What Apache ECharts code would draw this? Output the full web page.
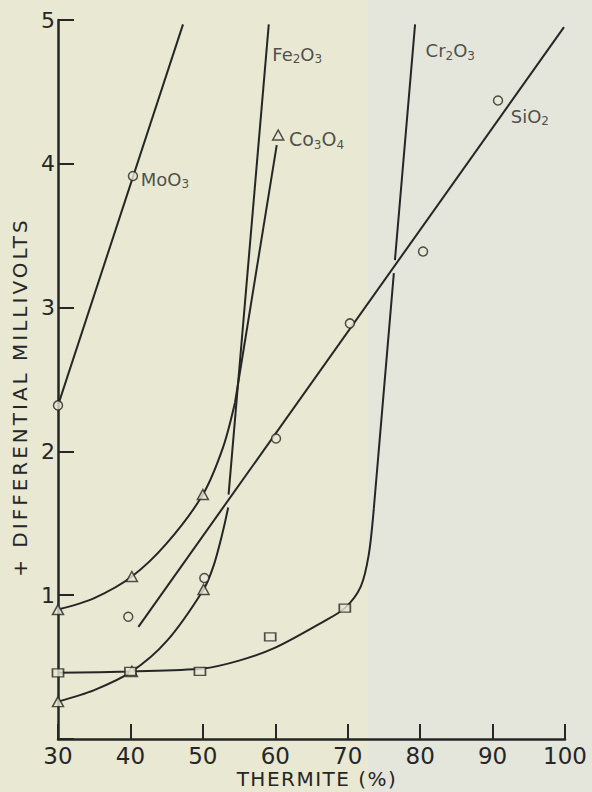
<!DOCTYPE html>
<html><head><meta charset="utf-8">
<script src="https://cdn.jsdelivr.net/npm/echarts@6/dist/echarts.min.js"></script>
<style>html,body{margin:0;padding:0;background:#e8e8d4}#c{width:592px;height:792px}</style>
</head><body><div id="c"></div>
<script>
// ---- data ----
const xTicks = [30, 40, 50, 60, 70, 80, 90, 100];
const yTicks = [0, 1, 2, 3, 4, 5];
const xName = 'THERMITE (%)';
const yName = '+ DIFFERENTIAL MILLIVOLTS';

const moO3Line = [[30, 2.32], [47.26, 4.97]];
const moO3Pts = [[30, 2.32], [40.35, 3.915]];

const siO2Line = [[41.1, 0.78], [99.86, 4.95]];
const siO2Pts = [[39.7, 0.85], [50.2, 1.12], [60.1, 2.09], [70.3, 2.89], [80.4, 3.39], [90.75, 4.44]];

const fe2O3Curve = [[30, 0.26], [35, 0.34], [40.2, 0.47], [45, 0.68], [50.1, 1.04],
  [51.45, 1.20], [52.7, 1.43], [53.5, 1.61]];
const fe2O3Line = [[53.55, 1.70], [59.1, 4.97]];
const fe2O3Tri = [[30, 0.26], [40.2, 0.47], [50.1, 1.04]];

const co3O4Curve = [[30, 0.9], [35, 0.98], [40.2, 1.13], [45, 1.36], [50, 1.70],
  [52.8, 2.03], [54.44, 2.34]];
const co3O4Line = [[54.44, 2.34], [60.2, 4.13]];
const co3O4Tri = [[30, 0.9], [40.2, 1.13], [50, 1.70], [60.4, 4.2]];

const cr2O3Curve = [[30, 0.46], [40, 0.47], [50, 0.49], [55, 0.545], [60, 0.635],
  [66.6, 0.815], [69.6, 0.91], [71.8, 1.06], [72.9, 1.28], [73.6, 1.6]];
const cr2O3Line = [[73.6, 1.6], [76.37, 3.24], [76.45, '-'], [76.52, 3.33], [79.3, 4.97]];
const cr2O3Sq = [[30, 0.46], [40, 0.47], [49.6, 0.47], [59.3, 0.71], [69.6, 0.91]];

// ---- styling ----
const INK = '#262626';
const BG = '#e8e8d3';
const BG2 = '#e4e5db';
const FONT = 'DejaVu Sans';

const rich = {
  n: { fontFamily: FONT, fontSize: 18, color: INK, padding: [0, 0, 2, 0], verticalAlign: 'bottom' },
  s: { fontFamily: FONT, fontSize: 12, color: INK, verticalAlign: 'bottom' }
};
function lbl(fmt, distance, oy, size) {
  const r = JSON.parse(JSON.stringify(rich));
  if (size) r.n.fontSize = size;
  return { show: true, position: 'right', distance: distance, offset: [0, oy], formatter: fmt, rich: r };
}

function lineS(name, data, smooth) {
  return { name, type: 'line', data, smooth: smooth ? 0.3 : false,
    showSymbol: false, symbol: 'none', z: 2, lineStyle: { color: INK, width: 2 }, silent: true };
}
function markS(name, data, symbol, size) {
  return { name, type: 'scatter', data, symbol, symbolSize: size, z: 4,
    itemStyle: { color: BG, borderColor: INK, borderWidth: 1.5 }, silent: true };
}

const chart = echarts.init(document.getElementById('c'), null, { renderer: 'svg' });
chart.setOption({
  animation: false,
  backgroundColor: BG,
  grid: { left: 58, right: 27, top: 20, bottom: 53, containLabel: false, outerBoundsMode: 'none' },
  xAxis: {
    type: 'value', min: xTicks[0], max: xTicks[xTicks.length - 1], interval: 10,
    axisLine: { lineStyle: { color: INK, width: 2.5 } },
    axisTick: { inside: true, length: 15, lineStyle: { color: INK, width: 2 } },
    axisLabel: { margin: 5, fontFamily: FONT, fontSize: 23, color: INK },
    splitLine: { show: false }
  },
  yAxis: {
    type: 'value', min: yTicks[0], max: yTicks[yTicks.length - 1], interval: 1,
    axisLine: { show: true, lineStyle: { color: INK, width: 2.5 } },
    axisTick: { show: true, inside: true, length: 16, lineStyle: { color: INK, width: 2 } },
    axisLabel: { margin: 3, fontFamily: FONT, fontSize: 22, color: INK, formatter: v => (v === 0 ? '' : String(v)) },
    splitLine: { show: false }
  },
  graphic: [
    { type: 'rect', z: -10, shape: { x: 368, y: 0, width: 224, height: 792 }, style: { fill: BG2 }, silent: true },
    { type: 'text', x: 20, y: 397, rotation: Math.PI / 2, z: 10,
      style: { text: yName, fontFamily: FONT, fontSize: 20, fill: INK, align: 'center', verticalAlign: 'middle' } },
    { type: 'text', x: 317, y: 779, z: 10,
      style: { text: xName, fontFamily: FONT, fontSize: 20, fill: INK, align: 'center', verticalAlign: 'middle' } }
  ],
  series: [
    lineS('MoO3', moO3Line, false),
    lineS('SiO2', siO2Line, false),
    lineS('Fe2O3 curve', fe2O3Curve, true),
    lineS('Fe2O3', fe2O3Line, false),
    lineS('Co3O4 curve', co3O4Curve, true),
    lineS('Co3O4', co3O4Line, false),
    lineS('Cr2O3 curve', cr2O3Curve, true),
    lineS('Cr2O3', cr2O3Line, false),
    markS('MoO3 points', moO3Pts.map((p, i) => i === 1 ? { value: p, label: lbl('{n|MoO}{s|3}', 2.5, 4) } : p), 'circle', 9),
    markS('SiO2 points', siO2Pts.map((p, i) => i === siO2Pts.length - 1 ? { value: p, label: lbl('{n|SiO}{s|2}', 7.5, 16.5) } : p), 'circle', 9),
    markS('Fe2O3 points', fe2O3Tri, 'triangle', [11, 10]),
    markS('Co3O4 points', co3O4Tri.map((p, i) => i === co3O4Tri.length - 1 ? { value: p, label: lbl('{n|Co}{s|3}{n|O}{s|4}', 4.5, 5, 19) } : p), 'triangle', [11, 10]),
    markS('Cr2O3 points', cr2O3Sq, 'rect', [11, 8]),
    { name: 'labels', type: 'scatter', symbol: 'circle', symbolSize: 1, z: 5, silent: true,
      itemStyle: { color: 'rgba(0,0,0,0)' },
      data: [
        { value: fe2O3Line[fe2O3Line.length - 1], label: lbl('{n|Fe}{s|2}{n|O}{s|3}', 3, 31) },
        { value: cr2O3Line[cr2O3Line.length - 1], label: lbl('{n|Cr}{s|2}{n|O}{s|3}', 10, 27.5) }
      ] }
  ]
});

// letter spacing on axis titles (SVG renderer)
document.querySelectorAll('#c text').forEach(t => {
  if (t.textContent === yName) t.style.letterSpacing = '3px';
  if (t.textContent === xName) t.style.letterSpacing = '1.5px';
});
</script>
</body></html>
